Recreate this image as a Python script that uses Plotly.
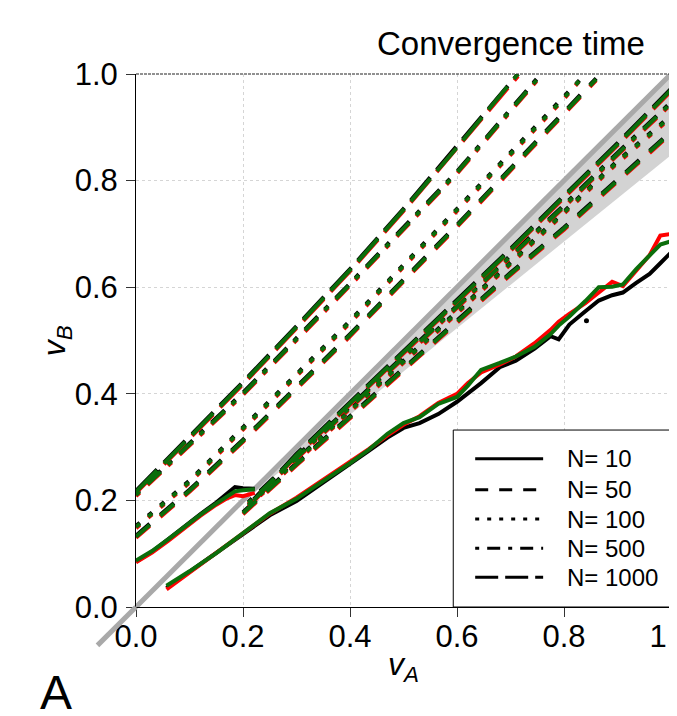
import plotly.graph_objects as go

# ---------------- data ----------------
# N = 10 (solid): upper boundary and lower boundary, three runs
x10_up = [0.0, 0.03, 0.06, 0.09, 0.12, 0.15, 0.17, 0.185, 0.2, 0.222]
y10_up_black = [0.085, 0.104, 0.127, 0.151, 0.174, 0.196, 0.212, 0.225, 0.223, 0.222]
y10_up_red = [0.084, 0.102, 0.124, 0.148, 0.171, 0.192, 0.204, 0.210, 0.208, 0.214]
y10_up_green = [0.087, 0.105, 0.127, 0.151, 0.173, 0.194, 0.207, 0.217, 0.219, 0.221]

x10_lo = [0.057, 0.1, 0.15, 0.2, 0.25, 0.3, 0.35, 0.4, 0.435, 0.47, 0.5, 0.53, 0.565, 0.6,
          0.62, 0.645, 0.68, 0.71, 0.745, 0.775, 0.79, 0.81, 0.84, 0.865, 0.89, 0.91,
          0.935, 0.96, 0.98, 1.0]
y10_lo_black = [0.036, 0.066, 0.100, 0.137, 0.172, 0.199, 0.233, 0.268, 0.293, 0.318, 0.336,
                0.345, 0.362, 0.385, 0.400, 0.420, 0.450, 0.462, 0.485, 0.508, 0.502, 0.530,
                0.555, 0.575, 0.585, 0.590, 0.608, 0.625, 0.645, 0.665]
y10_lo_red = [0.033, 0.065, 0.102, 0.140, 0.175, 0.205, 0.238, 0.272, 0.296, 0.322, 0.342,
              0.358, 0.383, 0.400, 0.420, 0.440, 0.455, 0.470, 0.495, 0.520, 0.535, 0.550,
              0.570, 0.590, 0.610, 0.602, 0.630, 0.660, 0.697, 0.700]
y10_lo_green = [0.040, 0.067, 0.101, 0.139, 0.176, 0.203, 0.236, 0.270, 0.295, 0.325, 0.345,
                0.356, 0.381, 0.394, 0.415, 0.445, 0.458, 0.470, 0.488, 0.512, 0.528, 0.545,
                0.574, 0.600, 0.601, 0.605, 0.634, 0.660, 0.680, 0.686]

# N = 50 (dashed)
x50_up = [0.0, 0.1, 0.2, 0.4, 0.6, 0.8, 0.86]
y50_up_black = [0.134, 0.220, 0.314, 0.512, 0.717, 0.927, 0.992]
y50_up_red = [0.130, 0.216, 0.310, 0.508, 0.713, 0.923, 0.988]
y50_up_green = [0.132, 0.218, 0.312, 0.510, 0.715, 0.925, 0.990]
x50_lo = [0.2, 0.3, 0.4, 0.5, 0.6, 0.7, 0.8, 0.9, 1.0]
y50_lo_black = [0.178, 0.270, 0.358, 0.447, 0.537, 0.627, 0.712, 0.802, 0.892]
y50_lo_red = [0.174, 0.266, 0.354, 0.443, 0.533, 0.623, 0.708, 0.798, 0.888]
y50_lo_green = [0.176, 0.268, 0.356, 0.445, 0.535, 0.625, 0.710, 0.800, 0.890]

# N = 100 (dotted)
x100_up = [0.0, 0.1, 0.2, 0.4, 0.6, 0.8, 0.84]
y100_up_black = [0.152, 0.237, 0.337, 0.537, 0.747, 0.957, 1.0]
y100_up_red = [0.148, 0.233, 0.333, 0.533, 0.743, 0.953, 1.0]
y100_up_green = [0.150, 0.235, 0.335, 0.535, 0.745, 0.955, 1.0]
x100_lo = [0.21, 0.3, 0.4, 0.5, 0.6, 0.7, 0.8, 0.9, 1.0]
y100_lo_black = [0.192, 0.277, 0.370, 0.462, 0.554, 0.647, 0.742, 0.837, 0.922]
y100_lo_red = [0.188, 0.273, 0.366, 0.458, 0.550, 0.643, 0.738, 0.833, 0.918]
y100_lo_green = [0.190, 0.275, 0.368, 0.460, 0.552, 0.645, 0.740, 0.835, 0.920]

# N = 500 (dot-dash)
x500_up = [0.0, 0.1, 0.2, 0.4, 0.6, 0.75]
y500_up_black = [0.212, 0.307, 0.402, 0.607, 0.817, 0.992]
y500_up_red = [0.208, 0.303, 0.398, 0.603, 0.813, 0.988]
y500_up_green = [0.210, 0.305, 0.400, 0.605, 0.815, 0.990]
x500_lo = [0.21, 0.3, 0.4, 0.5, 0.6, 0.7, 0.8, 0.9, 1.0]
y500_lo_black = [0.197, 0.282, 0.377, 0.470, 0.564, 0.658, 0.754, 0.852, 0.947]
y500_lo_red = [0.193, 0.278, 0.373, 0.466, 0.560, 0.654, 0.750, 0.848, 0.943]
y500_lo_green = [0.195, 0.280, 0.375, 0.468, 0.562, 0.656, 0.752, 0.850, 0.945]

# N = 1000 (long dash)
x1000_up = [0.0, 0.1, 0.2, 0.3, 0.4, 0.5, 0.6, 0.714]
y1000_up_black = [0.218, 0.320, 0.422, 0.527, 0.634, 0.747, 0.864, 1.0]
y1000_up_red = [0.214, 0.316, 0.418, 0.523, 0.630, 0.743, 0.860, 0.996]
y1000_up_green = [0.216, 0.318, 0.420, 0.525, 0.632, 0.745, 0.862, 1.0]
x1000_lo = [0.22, 0.3, 0.4, 0.5, 0.6, 0.7, 0.8, 0.9, 1.0]
y1000_lo_black = [0.202, 0.287, 0.384, 0.480, 0.576, 0.672, 0.772, 0.870, 0.972]
y1000_lo_red = [0.198, 0.283, 0.380, 0.476, 0.572, 0.668, 0.768, 0.866, 0.968]
y1000_lo_green = [0.200, 0.285, 0.382, 0.478, 0.574, 0.670, 0.770, 0.868, 0.970]

# stray point of run 1
stray_x = [0.842]
stray_y = [0.537]

# grey reference region below the diagonal, and the diagonal itself
band_x = [0.19, 1.0, 1.0]
band_y = [0.19, 1.0, 0.848]
diag_from = -0.072
diag_to = 1.06

tick_vals = [0.0, 0.2, 0.4, 0.6, 0.8, 1.0]
tick_text = ["0.0", "0.2", "0.4", "0.6", "0.8", "1.0"]
legend_labels = ["N= 10", "N= 50", "N= 100", "N= 500", "N= 1000"]

# ---------------- styles ----------------
COLORS = {"black": "#000000", "red": "#ff0000", "green": "#0b6e0b"}
DASH_PLOT = {"10": "solid", "50": "18px,14px", "100": "5px,11px",
             "500": "5px,11px,18px,10px", "1000": "30px,10px"}
DASH_LEG = ["solid", "13px,11px", "4px,8px", "4px,8px,13px,8px", "23px,7px"]
FONT = "Liberation Sans, Arial, Helvetica, sans-serif"

curves = {
    "10": [(x10_up, {"black": y10_up_black, "red": y10_up_red, "green": y10_up_green}),
           (x10_lo, {"black": y10_lo_black, "red": y10_lo_red, "green": y10_lo_green})],
    "50": [(x50_up, {"black": y50_up_black, "red": y50_up_red, "green": y50_up_green}),
           (x50_lo, {"black": y50_lo_black, "red": y50_lo_red, "green": y50_lo_green})],
    "100": [(x100_up, {"black": y100_up_black, "red": y100_up_red, "green": y100_up_green}),
            (x100_lo, {"black": y100_lo_black, "red": y100_lo_red, "green": y100_lo_green})],
    "500": [(x500_up, {"black": y500_up_black, "red": y500_up_red, "green": y500_up_green}),
            (x500_lo, {"black": y500_lo_black, "red": y500_lo_red, "green": y500_lo_green})],
    "1000": [(x1000_up, {"black": y1000_up_black, "red": y1000_up_red, "green": y1000_up_green}),
             (x1000_lo, {"black": y1000_lo_black, "red": y1000_lo_red, "green": y1000_lo_green})],
}

fig = go.Figure()

for col in ["black", "red", "green"]:
    for n, pair in curves.items():
        for xs, ys in pair:
            fig.add_trace(go.Scatter(
                x=xs, y=ys[col], mode="lines", showlegend=False, hoverinfo="skip",
                line=dict(color=COLORS[col], width=4, dash=DASH_PLOT[n])))
    if col == "black":
        fig.add_trace(go.Scatter(x=stray_x, y=stray_y, mode="markers", showlegend=False,
                                 marker=dict(color="#000000", size=5), hoverinfo="skip"))

shapes = []
band_path = "M {} {} L {} {} L {} {} Z".format(band_x[0], band_y[0], band_x[1], band_y[1],
                                                band_x[2], band_y[2])
shapes.append(dict(type="path", path=band_path, xref="x", yref="y", layer="between",
                   fillcolor="#d3d3d3", line=dict(width=0)))
shapes.append(dict(type="line", xref="x", yref="y", x0=0, y0=0, x1=1, y1=1, layer="between",
                   line=dict(color="#a9a9a9", width=5)))
# diagonal tails outside the panel (paper coordinates equal data coordinates here)
shapes.append(dict(type="line", xref="paper", yref="paper", x0=diag_from, y0=diag_from, x1=0, y1=0,
                   layer="above", line=dict(color="#a9a9a9", width=5)))
shapes.append(dict(type="line", xref="paper", yref="paper", x0=1, y0=1, x1=diag_to, y1=diag_to,
                   layer="above", line=dict(color="#a9a9a9", width=5)))
# top dashed border and right border
shapes.append(dict(type="line", xref="paper", yref="paper", x0=0, y0=1, x1=1, y1=1,
                   layer="above", line=dict(color="#222222", width=1, dash="3px,1px")))
shapes.append(dict(type="line", xref="paper", yref="paper", x0=1, y0=0, x1=1, y1=1,
                   layer="above", line=dict(color="#333333", width=1)))
# legend box
LEG_X0, LEG_Y1 = 0.593, 0.332
shapes.append(dict(type="rect", xref="paper", yref="paper", x0=LEG_X0, y0=0, x1=1, y1=LEG_Y1,
                   layer="above", fillcolor="white", line=dict(color="#000000", width=1)))
leg_rows = [0.278, 0.220, 0.165, 0.110, 0.056]
annotations = []
for row_y, dsh, lab in zip(leg_rows, DASH_LEG, legend_labels):
    shapes.append(dict(type="line", xref="paper", yref="paper", x0=0.634, x1=0.761,
                       y0=row_y, y1=row_y, layer="above",
                       line=dict(color="#000000", width=3, dash=dsh)))
    annotations.append(dict(xref="paper", yref="paper", x=0.802, y=row_y, text=lab,
                            showarrow=False, xanchor="left", yanchor="middle",
                            font=dict(family=FONT, size=24, color="#000000")))

annotations.append(dict(xref="paper", yref="paper", x=0.701, y=1.058, text="Convergence time",
                        showarrow=False, xanchor="center", yanchor="middle",
                        font=dict(family=FONT, size=33, color="#000000")))
annotations.append(dict(xref="paper", yref="paper", x=-0.15, y=-0.16, text="A",
                        showarrow=False, xanchor="center", yanchor="middle",
                        font=dict(family=FONT, size=48, color="#000000")))
# axis titles
annotations.append(dict(xref="paper", yref="paper", x=0.5, y=-0.112,
                        text="<i>v<sub>A</sub></i>", showarrow=False,
                        xanchor="center", yanchor="middle",
                        font=dict(family=FONT, size=32, color="#000000")))
annotations.append(dict(xref="paper", yref="paper", x=-0.148, y=0.5, textangle=-90,
                        text="<i>v<sub>B</sub></i>", showarrow=False,
                        xanchor="center", yanchor="middle",
                        font=dict(family=FONT, size=32, color="#000000")))

axis_common = dict(range=[0, 1], tickvals=tick_vals, ticktext=tick_text, ticks="outside",
                   ticklen=9, tickwidth=1, tickcolor="#333333", showline=True,
                   linecolor="#000000", linewidth=1, showgrid=True, gridcolor="#d5d5d5",
                   griddash="dot", gridwidth=1, zeroline=False, automargin=False,
                   ticklabeloverflow="allow",
                   tickfont=dict(family=FONT, size=31, color="#000000"), fixedrange=True)

# the page body adds an 8 px offset, so the figure is 8 px smaller than the window
fig.update_layout(
    width=669, height=708,
    margin=dict(l=128, r=6, t=66, b=109, autoexpand=False),
    paper_bgcolor="white", plot_bgcolor="white",
    shapes=shapes, annotations=annotations, showlegend=False,
    xaxis=dict(axis_common, ticklabelstandoff=-7),
    yaxis=dict(axis_common, ticklabelstandoff=2),
)

fig.write_html("out.html")
